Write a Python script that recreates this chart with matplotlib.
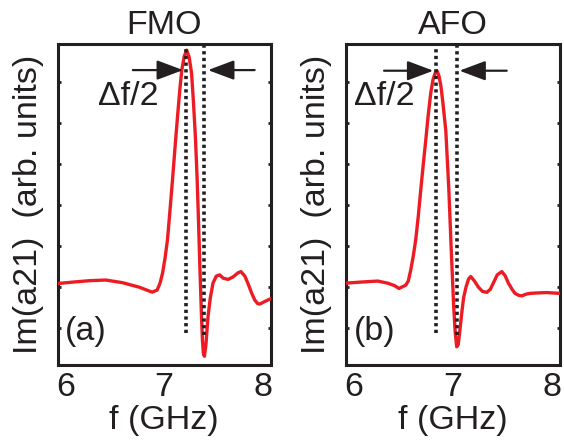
import matplotlib
matplotlib.use("Agg")
import matplotlib.pyplot as plt

plt.rcParams['font.family'] = ['Liberation Sans', 'DejaVu Sans']

# ---- data ----
fmo_f = [5.92, 6.1, 6.25, 6.41, 6.58, 6.75, 6.88, 6.93, 6.96, 6.985, 7.01, 7.035, 7.06, 7.086,
         7.11, 7.137, 7.16, 7.18, 7.205, 7.23, 7.255, 7.28, 7.30, 7.32, 7.335, 7.35, 7.365,
         7.38, 7.39, 7.40, 7.41, 7.425, 7.446, 7.47, 7.497, 7.53, 7.565, 7.6, 7.65, 7.70,
         7.75, 7.78, 7.82, 7.85, 7.89, 7.92, 7.95, 7.97, 8.02, 8.09]
fmo_y = [1.09, 1.13, 1.16, 1.175, 1.11, 1.0, 0.88, 0.93, 1.1, 1.34, 1.7, 2.15, 2.85, 3.61,
         4.35, 5.15, 5.8, 6.28, 6.62, 6.77, 6.6, 6.2, 5.45, 4.58, 3.7, 2.6, 1.4,
         0.3, -0.3, -0.62, -0.68, -0.4, 0.28, 0.75, 1.1, 1.27, 1.3, 1.22, 1.19, 1.25,
         1.35, 1.38, 1.27, 1.1, 0.85, 0.69, 0.6, 0.59, 0.65, 0.73]

afo_f = [5.92, 6.1, 6.24, 6.34, 6.41, 6.456, 6.524, 6.55, 6.575, 6.6, 6.625, 6.65, 6.676,
         6.7, 6.727, 6.75, 6.777, 6.8, 6.82, 6.84, 6.86, 6.88, 6.9, 6.93, 6.96, 6.985,
         7.01, 7.025, 7.04, 7.055, 7.07, 7.09, 7.11, 7.135, 7.16, 7.182, 7.22, 7.26, 7.3,
         7.344, 7.38, 7.41, 7.45, 7.496, 7.53, 7.563, 7.6, 7.63, 7.67, 7.70, 7.74, 7.78,
         7.85, 7.95, 8.085]
afo_y = [1.1, 1.13, 1.15, 1.1, 1.04, 0.97, 1.05, 1.15, 1.42, 1.75, 2.15, 2.7, 3.36,
         3.95, 4.58, 5.15, 5.72, 6.05, 6.2, 6.27, 6.15, 5.9, 5.5, 4.8, 3.4, 1.9,
         0.5, -0.1, -0.45, -0.4, -0.1, 0.35, 0.75, 1.01, 1.2, 1.26, 1.15, 1.0, 0.9,
         0.875, 0.95, 1.1, 1.3, 1.38, 1.28, 1.1, 0.95, 0.85, 0.8, 0.79, 0.83, 0.85,
         0.86, 0.87, 0.85]

titles = ["FMO", "AFO"]
panel_labels = ["(a)", "(b)"]
dotted_f = [[7.225, 7.41], [6.83, 7.045]]
dotted_bottom = [[-0.11, -0.16], [-0.11, -0.16]]
arrow_y = [6.285, 6.27]
arrow_right = [(6.684, 7.193), (6.305, 6.804)]   # (tail, tip)
arrow_left = [(7.919, 7.446), (7.546, 7.067)]    # (tail, tip)
xticks = [6, 7, 8]
xlim = (5.92, 8.085)
ylim = (-0.893, 6.92)

RED = '#ed1c24'
BLACK = '#231f20'
FS = 24.5

fig = plt.figure(figsize=(5.64, 4.44), dpi=100)
ax_pos = [[57.5 / 564, 79 / 444, 213.5 / 564, 321 / 444],
          [346 / 564, 79 / 444, 214 / 564, 321 / 444]]
series = [(fmo_f, fmo_y), (afo_f, afo_y)]

for i in range(2):
    ax = fig.add_axes(ax_pos[i])
    f, y = series[i]
    ax.plot(f, y, color=RED, lw=2.4, solid_joinstyle='round', zorder=3)
    for xf, yb in zip(dotted_f[i], dotted_bottom[i]):
        ax.plot([xf, xf], [yb, ylim[1]], color=BLACK, lw=2.6, dashes=(0.9, 0.95),
                dash_capstyle='butt', zorder=4, clip_on=False)
    for tail, tip in (arrow_right[i], arrow_left[i]):
        ax.annotate('', xy=(tip, arrow_y[i]), xytext=(tail, arrow_y[i]),
                    arrowprops=dict(arrowstyle='-|>,head_length=0.8,head_width=0.3',
                                    mutation_scale=20, lw=1.6, color=BLACK,
                                    shrinkA=0, shrinkB=0), zorder=5)
    ax.set_xlim(*xlim)
    ax.set_ylim(*ylim)
    ax.set_xticks(xticks)
    ax.set_xticklabels([str(t) for t in xticks], fontsize=FS, color=BLACK)
    ax.tick_params(axis='x', which='major', length=0, pad=5.0)
    ax.set_xticks([7], minor=True)
    ax.tick_params(axis='x', which='minor', direction='in', length=2.5, width=2.0,
                   top=True, bottom=True, color=BLACK)
    ax.set_yticks(range(0, 7))
    ax.set_yticklabels([])
    ax.tick_params(axis='y', direction='in', length=2.5, width=2.0, left=True,
                   right=True, color=BLACK)
    for sp in ax.spines.values():
        sp.set_linewidth(2.2)
        sp.set_color(BLACK)
    ax.set_title(titles[i], fontsize=FS, pad=7.5, color=BLACK)
    ax.set_xlabel('f (GHz)', fontsize=FS, labelpad=1.5, color=BLACK)
    ax.set_ylabel('Im(a21)  (arb. units)', fontsize=FS, labelpad=6.5, color=BLACK)
    ax.text(0.035 if i == 0 else 0.037, 0.105, panel_labels[i], transform=ax.transAxes,
            fontsize=FS, ha='left', va='center', color=BLACK)
    ax.text(0.333 if i == 0 else 0.18, 0.81, 'Δf/2', transform=ax.transAxes,
            fontsize=FS, ha='center', va='baseline', color=BLACK)

fig.savefig('out.png', dpi=100)
